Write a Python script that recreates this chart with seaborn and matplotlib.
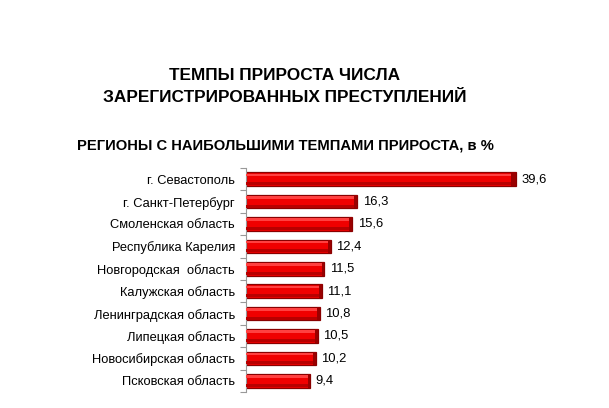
import matplotlib
matplotlib.use("Agg")
import matplotlib.pyplot as plt
import seaborn as sns
import pandas as pd
import numpy as np

regions = ["г. Севастополь", "г. Санкт-Петербург", "Смоленская область",
           "Республика Карелия", "Новгородская  область", "Калужская область",
           "Ленинградская область", "Липецкая область", "Новосибирская область",
           "Псковская область"]
values = [39.6, 16.3, 15.6, 12.4, 11.5, 11.1, 10.8, 10.5, 10.2, 9.4]
value_labels = ["39,6", "16,3", "15,6", "12,4", "11,5", "11,1", "10,8", "10,5", "10,2", "9,4"]

sns.set_theme(style="white")
plt.rcParams['font.family'] = ['Liberation Sans', 'DejaVu Sans']

df = pd.DataFrame({"region": regions, "value": values})

fig = plt.figure(figsize=(6.09, 4.08), dpi=100)
ax = fig.add_axes([246/609, 16/408, (587-246)/609, (392-168)/408])

sns.barplot(data=df, y="region", x="value", ax=ax, orient="h",
            color="#f00000", edgecolor="#8a0000", linewidth=0.9,
            width=0.6, saturation=1)

# shading to mimic 3D bars
for p in list(ax.patches):
    y0, h, w = p.get_y(), p.get_height(), p.get_width()
    # darker lower band
    ax.barh(y0 + h*0.72, w*0.99, height=h*0.22, left=0,
            color="#b80000", linewidth=0, align="edge", zorder=3)
    # lighter upper band
    ax.barh(y0 + h*0.08, w*0.99, height=h*0.2, left=0,
            color="#ff4040", linewidth=0, align="edge", zorder=3)
    # dark right end
    ax.barh(y0, w*0.012 + 0.25, height=h, left=w - (w*0.012 + 0.25),
            color="#9a0000", linewidth=0, align="edge", zorder=3)

ax.set_xlim(0, 50)
ax.set_ylim(len(regions) - 0.5, -0.5)
ax.set_xlabel("")
ax.set_ylabel("")
ax.set_xticks([])

for i, (v, lab) in enumerate(zip(values, value_labels)):
    ax.text(v + 0.8, i, lab, va="center", ha="left", fontsize=9.4, color="black")

ax.tick_params(axis="y", which="major", length=0, pad=8, labelsize=9.3, labelcolor="black")
ax.set_yticks(np.arange(-0.5, len(regions), 1), minor=True)
ax.tick_params(axis="y", which="minor", length=4, width=0.8, color="#999999", direction="out", left=True)

for s in ["top", "right", "bottom"]:
    ax.spines[s].set_visible(False)
ax.spines["left"].set_color("#999999")
ax.spines["left"].set_linewidth(0.8)

fig.text(285/609, 1 - 75/408, "ТЕМПЫ ПРИРОСТА ЧИСЛА", ha="center", va="center",
         fontsize=12.4, fontweight="bold", color="black")
fig.text(285/609, 1 - 97/408, "ЗАРЕГИСТРИРОВАННЫХ ПРЕСТУПЛЕНИЙ", ha="center", va="center",
         fontsize=12.4, fontweight="bold", color="black")
fig.text(285/609, 1 - 145/408, "РЕГИОНЫ С НАИБОЛЬШИМИ ТЕМПАМИ ПРИРОСТА, в %", ha="center", va="center",
         fontsize=10.6, fontweight="bold", color="black")

fig.savefig("out.png", dpi=100)
